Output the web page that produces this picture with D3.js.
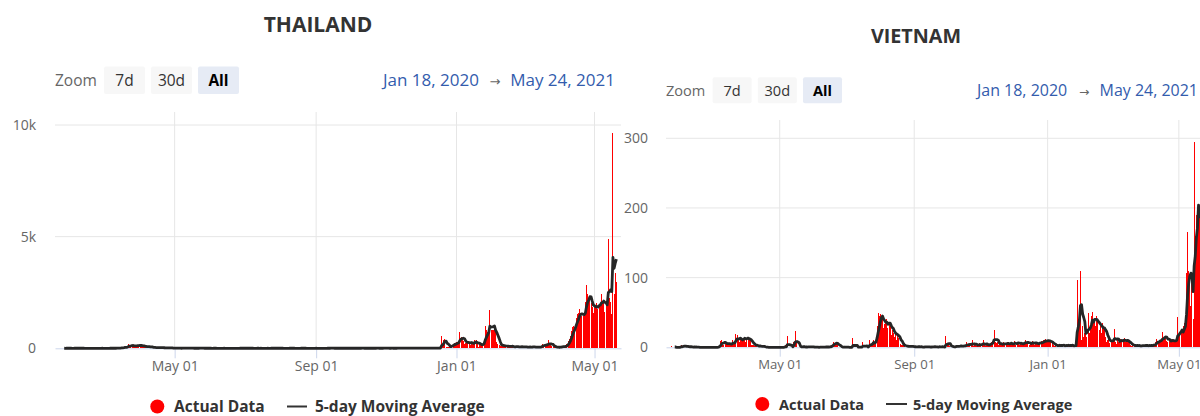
<!DOCTYPE html>
<html>
<head>
<meta charset="utf-8">
<script src="https://cdn.jsdelivr.net/npm/d3@7"></script>
<style>
  body { margin: 0; background: #fff; }
  text { font-family: "Open Sans", "DejaVu Sans", sans-serif; }
</style>
</head>
<body>
<svg id="chart" width="1200" height="416"></svg>
<script>
// ---- data ----
const firstDay = "2020-01-22";           // first daily value
const axisStart = "2020-01-18";
const axisEnd = "2021-05-24";
const tickDates = ["2020-05-01", "2020-09-01", "2021-01-01", "2021-05-01"];
const tickLabels = ["May 01", "Sep 01", "Jan 01", "May 01"];
const zoomButtons = ["7d", "30d", "All"];
const legendLabels = ["Actual Data", "5-day Moving Average"];
const rangeLabels = ["Jan 18, 2020", "May 24, 2021"];
const thailandTicks = [0, 5000, 10000];
const thailandTickLabels = ["0", "5k", "10k"];
const vietnamTicks = [0, 100, 200, 300];
const vietnamTickLabels = ["0", "100", "200", "300"];

// daily new cases, one row per month
const thailandCases = [
  4,0,1,2,1,0,6,0,0,5,                                                                  // Jan 20 (22-31)
  0,0,0,6,0,0,0,7,0,0,1,0,0,0,0,1,1,0,0,0,0,0,0,2,3,0,0,1,1,                            // Feb
  0,1,0,0,4,1,2,0,0,3,6,11,5,7,32,33,30,35,60,50,89,188,122,106,107,111,91,109,143,136,127, // Mar
  120,104,103,89,102,51,38,111,54,50,45,33,28,34,30,29,28,33,32,27,19,15,13,15,53,15,9,7,9,7, // Apr
  6,18,3,3,1,1,3,18,6,5,4,7,5,2,7,3,3,0,3,1,3,3,11,2,2,0,0,11,3,1,1,                    // May
  1,1,1,2,2,0,0,0,1,3,0,0,2,0,0,0,0,0,0,0,0,0,0,0,3,0,3,0,0,7,                          // Jun
  0,0,2,5,0,0,1,0,3,0,1,3,1,0,1,0,3,1,0,1,3,0,0,6,0,1,4,0,2,5,3,                        // Jul
  0,2,0,0,0,0,0,1,6,0,2,1,0,1,0,1,0,3,6,0,2,0,0,1,0,0,0,1,1,2,0,                        // Aug
  2,0,1,0,0,0,0,1,4,0,3,8,0,7,2,0,5,2,0,4,0,0,6,0,1,0,7,0,0,5,                          // Sep
  4,1,4,1,0,0,1,5,6,0,6,0,0,2,4,3,6,1,0,1,7,0,2,7,3,0,3,0,5,12,2,                       // Oct
  2,6,6,0,2,4,3,2,0,5,7,4,1,4,7,7,6,2,5,9,0,9,4,8,7,6,3,1,4,19,                         // Nov
  8,7,5,10,9,2,8,9,9,4,7,8,4,5,6,2,3,13,548,188,382,427,46,37,49,110,121,144,155,250,194, // Dec
  279,216,315,745,527,365,305,212,245,249,339,250,157,301,188,202,374,369,171,59,
  187,198,193,198,250,1000,800,750,700,1714,800,                                        // Jan 21
  830,800,850,780,300,200,150,120,100,150,120,90,70,65,150,80,50,70,110,60,50,80,90,70,40,60,100,50, // Feb
  50,60,40,60,60,70,50,50,80,60,40,50,40,60,80,110,200,130,120,180,150,370,170,140,100,80,60,50,40,40,50, // Mar
  60,84,89,84,54,96,194,334,405,559,789,967,985,965,1335,1543,1582,1767,1390,1443,
  1458,1470,2070,2839,2438,2048,2179,2012,1871,1583,                                    // Apr
  1891,1940,2041,1763,1911,2044,2419,2101,2101,1630,1919,1983,4887,2256,2052,1543,9635,2438,3394,2967 // May (1-20)
];

const vietnamCases = [
  0,2,0,0,0,0,0,0,0,0,                                                                  // Jan 20 (22-31)
  4,0,2,2,0,2,1,0,1,0,1,0,1,0,0,0,0,0,0,0,0,0,0,0,0,0,0,0,0,                            // Feb
  0,0,0,0,0,1,4,9,11,4,4,8,6,4,5,4,5,5,10,6,7,19,18,10,7,12,13,11,14,15,8,              // Mar
  14,15,10,12,3,4,4,2,4,2,1,0,3,2,1,1,0,0,0,0,0,0,0,0,0,0,0,0,0,0,                      // Apr
  0,0,0,0,0,3,0,16,0,0,0,0,4,8,23,6,0,0,1,2,0,0,2,0,0,0,1,2,0,0,0,                      // May
  1,0,0,0,0,0,1,0,0,0,0,2,0,0,0,1,3,4,7,6,5,7,3,0,1,0,0,0,1,0,                          // Jun
  0,0,0,0,0,0,13,0,0,0,1,0,0,0,0,8,0,0,0,2,0,10,5,2,8,10,6,11,30,49,45,                 // Jul
  48,40,42,28,34,36,40,27,36,35,18,25,20,15,24,11,20,13,5,4,3,3,2,1,2,0,1,2,1,2,0,      // Aug
  0,1,0,2,1,0,0,1,0,0,2,0,1,0,0,1,0,2,0,1,0,0,1,2,0,0,1,0,1,16,                         // Sep
  3,5,2,0,1,0,2,0,1,4,0,2,1,3,2,0,4,2,8,3,2,5,3,11,2,4,3,2,5,3,6,                       // Oct
  2,4,10,3,2,5,4,3,4,6,8,9,25,7,6,8,4,5,3,6,4,7,5,3,8,5,4,6,7,3,                        // Nov
  5,9,4,6,8,3,7,5,4,6,8,10,5,6,4,7,5,9,6,3,8,5,6,4,7,9,6,10,8,12,9,                     // Dec
  8,10,7,9,6,3,2,4,1,3,2,5,1,3,2,4,1,3,2,5,1,3,2,4,1,2,3,97,40,50,109,                  // Jan 21
  10,30,15,20,25,15,49,20,30,45,51,35,40,30,45,40,25,30,20,35,30,25,15,8,10,12,6,10,    // Feb
  8,10,26,8,5,12,8,10,12,7,9,14,8,10,9,7,6,3,2,3,2,4,1,3,2,3,1,2,4,2,3,                 // Mar
  2,3,1,4,2,3,2,5,3,8,12,9,6,11,10,22,12,14,16,9,8,11,10,7,12,9,8,10,11,44,             // Apr
  15,20,20,25,30,35,40,106,166,110,90,60,100,40,295,160,190,170,206,200                 // May (1-20)
];

// ---- layout ----
const parseDay = d3.utcParse("%Y-%m-%d");
const svg = d3.select("#chart");

const charts = [
  {
    title: "THAILAND", cases: thailandCases, ticks: thailandTicks, tickText: thailandTickLabels,
    s: 1, left: 55, right: 621, top: 112, bottom: 348.3, yTopVal: 10000, yTopPx: 125, labelPad: 19,
    titleX: 318, titleY: 31.5, barY: 66.5, barH: 27.5, ctrlBase: 86,
    zoomX: 55, btnX: 104, btnW: 41, btnGap: 6,
    rangeX: [383, 495, 615],
    legY: 406.5, legCircle: 157.3, legText1: 174, legLine: [287, 307], legText2: 315
  },
  {
    title: "VIETNAM", cases: vietnamCases, ticks: vietnamTicks, tickText: vietnamTickLabels,
    s: 0.94, left: 666, right: 1204, top: 120, bottom: 347.3, yTopVal: 300, yTopPx: 138.3, labelPad: 18,
    titleX: 916, titleY: 43, barY: 77.3, barH: 26, ctrlBase: 95.5,
    zoomX: 666, btnX: 712.6, btnW: 39, btnGap: 6.2,
    rangeX: [977, 1084, 1198],
    legY: 404, legCircle: 762.3, legText1: 779, legLine: [886, 907], legText2: 913
  }
];

charts.forEach(c => {
  const g = svg.append("g");
  const x = d3.scaleUtc().domain([parseDay(axisStart), parseDay(axisEnd)]).range([c.left, c.right]);
  const y = d3.scaleLinear().domain([0, c.yTopVal]).range([c.bottom, c.yTopPx]);
  const start = parseDay(firstDay);
  const series = c.cases.map((v, i) => ({ date: d3.utcDay.offset(start, i), value: v }));
  const avg = series.slice(4).map((d, i) => ({
    date: d.date,
    value: d3.mean(c.cases.slice(i, i + 5))
  }));

  // grid
  g.append("g").selectAll("line").data(c.ticks.slice(1)).join("line")
    .attr("x1", c.left).attr("x2", c.right)
    .attr("y1", d => y(d)).attr("y2", d => y(d))
    .attr("stroke", "#e6e6e6").attr("stroke-width", 1);
  g.append("g").selectAll("line").data(tickDates.map(parseDay)).join("line")
    .attr("x1", d => x(d)).attr("x2", d => x(d))
    .attr("y1", c.top).attr("y2", c.bottom)
    .attr("stroke", "#e6e6e6").attr("stroke-width", 1);

  // x axis
  const xAxis = g.append("g").attr("transform", `translate(0,${c.bottom})`)
    .call(d3.axisBottom(x).tickValues(tickDates.map(parseDay))
      .tickFormat((d, i) => tickLabels[i]).tickSize(10 * c.s).tickSizeOuter(0).tickPadding(3));
  xAxis.select(".domain").attr("stroke", "#ccd6eb");
  xAxis.selectAll(".tick line").attr("stroke", "#ccd6eb");
  xAxis.selectAll("text").attr("fill", "#666").style("font-size", (14 * c.s) + "px")
    .style("font-family", '"Open Sans", sans-serif');

  // y axis
  const yAxis = g.append("g").attr("transform", `translate(${c.left},0)`)
    .call(d3.axisLeft(y).tickValues(c.ticks).tickFormat((d, i) => c.tickText[i])
      .tickSize(0).tickPadding(c.labelPad));
  yAxis.select(".domain").remove();
  yAxis.selectAll("text").attr("fill", "#666").style("font-size", "14px")
    .style("font-family", '"Open Sans", sans-serif');

  // columns
  g.append("g").attr("shape-rendering", "crispEdges").selectAll("rect")
    .data(series.filter(d => d.value > 0)).join("rect")
    .attr("x", d => x(d.date) - 0.5).attr("width", 1)
    .attr("y", d => y(d.value)).attr("height", d => c.bottom - y(d.value))
    .attr("fill", "#ff0000");

  // moving average
  g.append("path").datum(avg)
    .attr("d", d3.line().x(d => x(d.date)).y(d => y(d.value)))
    .attr("fill", "none").attr("stroke", "#262626").attr("stroke-width", 2.8)
    .attr("stroke-linejoin", "round");

  // title
  g.append("text").attr("x", c.titleX).attr("y", c.titleY).attr("text-anchor", "middle")
    .attr("fill", "#333").style("font-size", (21 * c.s) + "px").style("font-weight", "bold")
    .text(c.title);

  // range selector
  g.append("text").attr("x", c.zoomX).attr("y", c.ctrlBase).attr("fill", "#666")
    .style("font-size", (15.5 * c.s) + "px").text("Zoom");
  const btn = g.append("g").selectAll("g").data(zoomButtons).join("g")
    .attr("transform", (d, i) => `translate(${c.btnX + i * (c.btnW + c.btnGap)},0)`);
  btn.append("rect").attr("y", c.barY).attr("width", c.btnW).attr("height", c.barH)
    .attr("rx", 2).attr("fill", d => d === "All" ? "#e6ebf5" : "#f7f7f7");
  btn.append("text").attr("x", c.btnW / 2).attr("y", c.ctrlBase).attr("text-anchor", "middle")
    .attr("fill", d => d === "All" ? "#000" : "#333")
    .style("font-weight", d => d === "All" ? "bold" : "normal")
    .style("font-size", (15.5 * c.s) + "px").text(d => d);

  g.append("text").attr("x", c.rangeX[0]).attr("y", c.ctrlBase).attr("fill", "#335cad")
    .style("font-size", (17 * c.s) + "px").text(rangeLabels[0]);
  g.append("text").attr("x", c.rangeX[1]).attr("y", c.ctrlBase).attr("text-anchor", "middle")
    .attr("fill", "#666").style("font-size", (13 * c.s) + "px").text("\u2192");
  g.append("text").attr("x", c.rangeX[2]).attr("y", c.ctrlBase).attr("text-anchor", "end")
    .attr("fill", "#335cad").style("font-size", (17 * c.s) + "px").text(rangeLabels[1]);

  // legend
  g.append("circle").attr("cx", c.legCircle).attr("cy", c.legY).attr("r", 7).attr("fill", "#ff0000");
  g.append("text").attr("x", c.legText1).attr("y", c.legY + 5.5).attr("fill", "#333")
    .style("font-size", (15.5 * c.s) + "px").style("font-weight", "bold").text(legendLabels[0]);
  g.append("line").attr("x1", c.legLine[0]).attr("x2", c.legLine[1])
    .attr("y1", c.legY).attr("y2", c.legY).attr("stroke", "#333").attr("stroke-width", 2);
  g.append("text").attr("x", c.legText2).attr("y", c.legY + 5.5).attr("fill", "#333")
    .style("font-size", (15.5 * c.s) + "px").style("font-weight", "bold").text(legendLabels[1]);
});
</script>
</body>
</html>
